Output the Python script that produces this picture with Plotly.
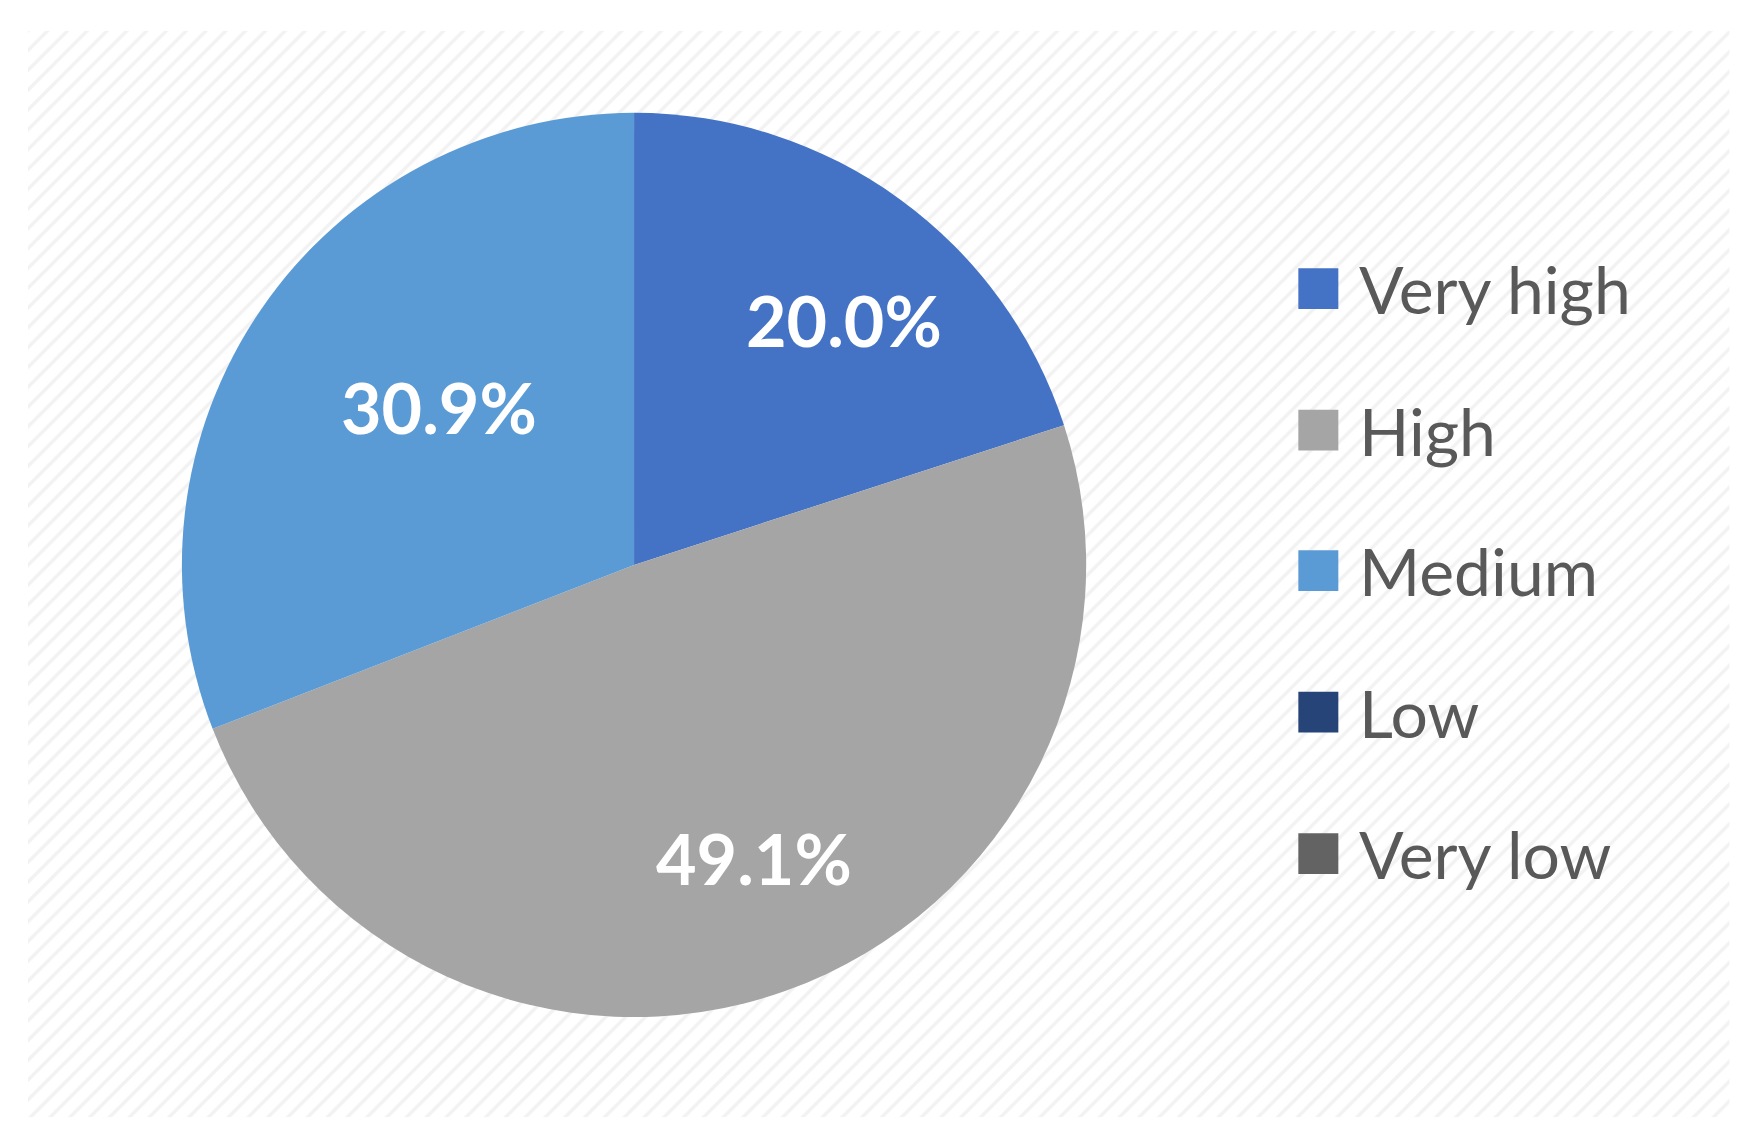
import math
import plotly.graph_objects as go

labels = ["Very high", "High", "Medium", "Low", "Very low"]
values = [20.0, 49.1, 30.9, 0.0, 0.0]
colors = ["#4472C4", "#A5A5A5", "#5B9BD5", "#264478", "#636363"]

W, H = 1739, 1132
dom_x = [0.1, 0.62]
dom_y = [0.108, 0.908]

fig = go.Figure()
fig.add_trace(go.Scatter(x=[0, 1, 1, 0, 0], y=[0, 0, 1, 1, 0], fill="toself", mode="none",
                         fillcolor="white",
                         fillpattern=dict(shape="/", fgcolor="#e6e6e6", bgcolor="white", size=14, solidity=0.25),
                         hoverinfo="skip", showlegend=False))
fig.add_trace(go.Pie(labels=labels, values=values, sort=False, direction="clockwise", rotation=0,
                     marker=dict(colors=colors, line=dict(width=0)), textinfo="none",
                     domain=dict(x=dom_x, y=dom_y), showlegend=False))

annotations = []
# percent labels placed along each slice's mid-angle
cx = (dom_x[0] + dom_x[1]) / 2 * W
cy = (dom_y[0] + dom_y[1]) / 2 * H
r = (dom_y[1] - dom_y[0]) * H / 2
total = sum(values)
cum = 0.0
for v in values:
    if v > 0:
        mid = (cum + v / 2) / total * 2 * math.pi
        px = cx + 0.79 * r * math.sin(mid)
        py = cy + 0.79 * r * math.cos(mid)
        annotations.append(dict(text=f"{v / total * 100:.1f}%", xref="paper", yref="paper",
                                x=px / W, y=py / H, showarrow=False,
                                font=dict(family="Lato", size=70, color="white", weight="bold")))
    cum += v

shapes = [dict(type="rect", xref="paper", yref="paper", x0=0.719, x1=0.962, y0=0.188, y1=0.814,
               fillcolor="white", line=dict(width=0), layer="below")]
ys = [0.752, 0.627, 0.503, 0.378, 0.253]
for lab, col, y in zip(labels, colors, ys):
    shapes.append(dict(type="rect", xref="paper", yref="paper", x0=0.742, x1=0.765,
                       y0=y - 0.018, y1=y + 0.018, fillcolor=col, line=dict(width=0)))
    annotations.append(dict(text=lab, xref="paper", yref="paper", x=0.776, y=y, xanchor="left",
                            yanchor="middle", showarrow=False,
                            font=dict(family="Lato", size=66, color="#595959")))

fig.update_layout(width=W, height=H, margin=dict(l=0, r=0, t=0, b=0),
                  paper_bgcolor="white", plot_bgcolor="white",
                  xaxis=dict(domain=[0.0115, 0.99], range=[0, 1], visible=False, fixedrange=True),
                  yaxis=dict(domain=[0.02, 0.98], range=[0, 1], visible=False, fixedrange=True),
                  shapes=shapes, annotations=annotations)
fig.write_html("out.html")
